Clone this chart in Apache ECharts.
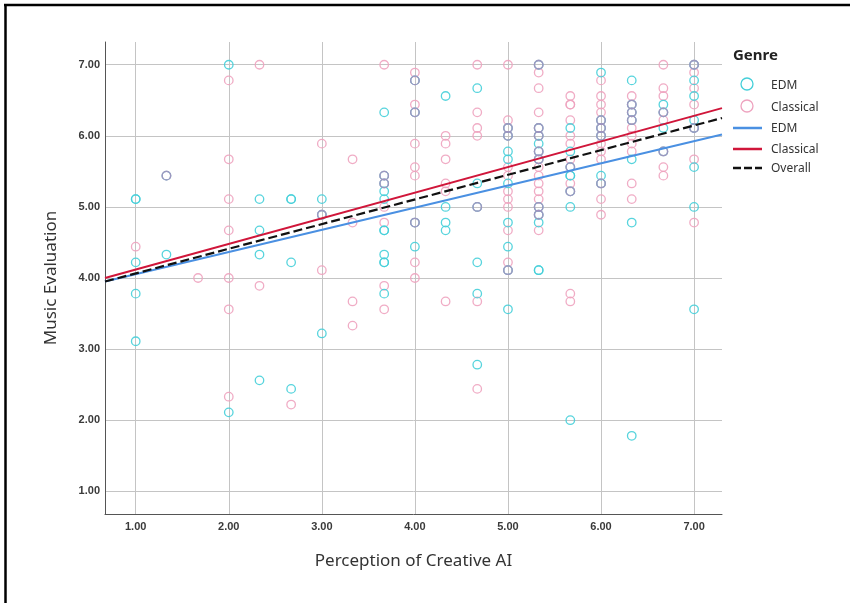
<!DOCTYPE html>
<html><head><meta charset="utf-8">
<script src="https://cdn.jsdelivr.net/npm/echarts@6/dist/echarts.min.js"></script>
<style>html,body{margin:0;padding:0;background:#fff}#c{width:850px;height:603px}</style>
</head><body><div id="c"></div>
<script>
var xTicks = [1, 2, 3, 4, 5, 6, 7];
var yTicks = [1, 2, 3, 4, 5, 6, 7];
var edmPoints = [
[1,5.11],[1,5.11],[1,4.22],[1,3.78],[1,3.11],
[1.33,5.44],[1.33,4.33],
[2,7.00],[2,2.11],
[2.33,5.11],[2.33,4.67],[2.33,4.33],[2.33,2.56],
[2.67,5.11],[2.67,5.11],[2.67,4.22],[2.67,2.44],
[3,5.11],[3,4.89],[3,3.22],
[3.67,6.33],[3.67,5.44],[3.67,5.33],[3.67,5.22],[3.67,5.11],[3.67,4.67],[3.67,4.67],[3.67,4.33],[3.67,4.22],[3.67,4.22],[3.67,3.78],
[4,6.78],[4,6.33],[4,4.78],[4,4.44],
[4.33,6.56],[4.33,5.00],[4.33,4.78],[4.33,4.67],
[4.67,6.67],[4.67,5.33],[4.67,5.00],[4.67,4.22],[4.67,3.78],[4.67,2.78],
[5,6.11],[5,6.00],[5,5.78],[5,5.67],[5,5.33],[5,4.78],[5,4.44],[5,4.11],[5,3.56],
[5.33,7.00],[5.33,6.11],[5.33,6.00],[5.33,5.89],[5.33,5.78],[5.33,5.67],[5.33,5.00],[5.33,4.89],[5.33,4.78],[5.33,4.11],[5.33,4.11],
[5.67,6.11],[5.67,5.78],[5.67,5.56],[5.67,5.44],[5.67,5.44],[5.67,5.22],[5.67,5.00],[5.67,2.00],
[6,6.89],[6,6.22],[6,6.11],[6,6.00],[6,5.44],[6,5.33],
[6.33,6.78],[6.33,6.44],[6.33,6.33],[6.33,6.22],[6.33,5.67],[6.33,4.78],[6.33,1.78],
[6.67,6.44],[6.67,6.33],[6.67,6.11],[6.67,5.78],
[7,7.00],[7,6.78],[7,6.56],[7,6.22],[7,6.11],[7,5.56],[7,5.00],[7,3.56]
];
var classicalPoints = [
[1,4.44],
[1.33,5.44],
[1.67,4.00],
[2,6.78],[2,5.67],[2,5.11],[2,4.67],[2,4.00],[2,3.56],[2,2.33],
[2.33,7.00],[2.33,3.89],
[2.67,2.22],
[3,5.89],[3,4.89],[3,4.11],
[3.33,5.67],[3.33,4.78],[3.33,3.67],[3.33,3.33],
[3.67,7.00],[3.67,5.44],[3.67,5.33],[3.67,5.00],[3.67,4.78],[3.67,3.89],[3.67,3.56],
[4,6.89],[4,6.78],[4,6.44],[4,6.33],[4,5.89],[4,5.56],[4,5.44],[4,4.78],[4,4.22],[4,4.00],
[4.33,6.00],[4.33,5.89],[4.33,5.67],[4.33,5.33],[4.33,5.22],[4.33,3.67],
[4.67,7.00],[4.67,6.33],[4.67,6.11],[4.67,6.00],[4.67,5.00],[4.67,3.67],[4.67,2.44],
[5,7.00],[5,6.22],[5,6.11],[5,6.00],[5,5.56],[5,5.44],[5,5.22],[5,5.11],[5,5.00],[5,4.67],[5,4.22],[5,4.11],
[5.33,7.00],[5.33,6.89],[5.33,6.67],[5.33,6.33],[5.33,6.11],[5.33,6.00],[5.33,5.78],[5.33,5.67],[5.33,5.56],[5.33,5.44],[5.33,5.33],[5.33,5.22],[5.33,5.11],[5.33,5.00],[5.33,4.89],[5.33,4.67],
[5.67,6.56],[5.67,6.44],[5.67,6.44],[5.67,6.22],[5.67,6.00],[5.67,5.89],[5.67,5.67],[5.67,5.56],[5.67,5.33],[5.67,5.22],[5.67,3.78],[5.67,3.67],
[6,6.78],[6,6.56],[6,6.44],[6,6.33],[6,6.22],[6,6.11],[6,6.00],[6,5.89],[6,5.78],[6,5.67],[6,5.33],[6,5.11],[6,4.89],
[6.33,6.56],[6.33,6.44],[6.33,6.33],[6.33,6.22],[6.33,6.11],[6.33,6.00],[6.33,5.89],[6.33,5.78],[6.33,5.33],[6.33,5.11],
[6.67,7.00],[6.67,6.67],[6.67,6.56],[6.67,6.33],[6.67,6.22],[6.67,5.78],[6.67,5.56],[6.67,5.44],
[7,7.00],[7,6.89],[7,6.67],[7,6.44],[7,6.11],[7,5.67],[7,4.78]
];
var fitX = [0.67, 7.30];
var edmFit = [3.95, 6.02];
var classicalFit = [4.00, 6.39];
var overallFit = [3.95, 6.25];

var COL_EDM = '#45cfd9', COL_CLA = '#eea3bf', COL_BOTH = '#a690bd';
var keys = {};
classicalPoints.forEach(function(p){ keys[p[0]+'|'+p[1]] = true; });
var bothPoints = edmPoints.filter(function(p){ return keys[p[0]+'|'+p[1]]; });

function pairs(xs, ys){ return xs.map(function(x,i){ return [x, ys[i]]; }); }
function ring(col){ return {color:'transparent', borderColor: col, borderWidth: 1.3, opacity: 0.9}; }

var chart = echarts.init(document.getElementById('c'), null, {renderer:'canvas'});
var tickFont = {fontFamily:'Liberation Sans, Arial, sans-serif', fontSize: 11, fontWeight: 'bold', color: '#3a3a3a'};
var legFont = '12px "Noto Sans", sans-serif';
chart.setOption({
  animation: false,
  grid: {left: 105, right: 128, top: 42, bottom: 89},
  xAxis: {
    type: 'value', min: 0.67, max: 7.30,
    name: 'Perception of Creative AI', nameLocation: 'middle', nameGap: 39,
    nameTextStyle: {fontFamily: 'Noto Sans, sans-serif', fontSize: 17, color: '#333'},
    axisLine: {show: true, lineStyle: {color: '#555', width: 1}},
    axisTick: {show: false, customValues: xTicks},
    axisLabel: Object.assign({customValues: xTicks, margin: 7, formatter: function(v){ return v.toFixed(2); }}, tickFont),
    splitLine: {show: true, lineStyle: {color: '#c4c4c4', width: 1}}
  },
  yAxis: {
    type: 'value', min: 0.68, max: 7.32,
    name: 'Music Evaluation', nameLocation: 'middle', nameGap: 45,
    nameTextStyle: {fontFamily: 'Noto Sans, sans-serif', fontSize: 17, color: '#333'},
    axisLine: {show: true, lineStyle: {color: '#555', width: 1}},
    axisTick: {show: false, customValues: yTicks},
    axisLabel: Object.assign({customValues: yTicks, margin: 5, formatter: function(v){ return v.toFixed(2); }}, tickFont),
    splitLine: {show: true, lineStyle: {color: '#c4c4c4', width: 1}}
  },
  series: [
    {type: 'scatter', name: 'Classical', data: classicalPoints, symbol: 'circle', symbolSize: 8.5, itemStyle: ring(COL_CLA), z: 2},
    {type: 'scatter', name: 'EDM', data: edmPoints, symbol: 'circle', symbolSize: 8.5, itemStyle: ring(COL_EDM), z: 3},
    {type: 'scatter', name: 'Both', data: bothPoints, symbol: 'circle', symbolSize: 8.5, itemStyle: ring(COL_BOTH), z: 4},
    {type: 'line', name: 'EDM fit', data: pairs(fitX, edmFit), showSymbol: false, lineStyle: {color: '#4a90e2', width: 2}, z: 5},
    {type: 'line', name: 'Classical fit', data: pairs(fitX, classicalFit), showSymbol: false, lineStyle: {color: '#d0163a', width: 2}, z: 6},
    {type: 'line', name: 'Overall fit', data: pairs(fitX, overallFit), showSymbol: false, lineStyle: {color: '#111', width: 2.2, type: [9, 4]}, z: 7}
  ],
  graphic: [
    {type: 'line', shape: {x1: 5.5, y1: 4, x2: 5.5, y2: 603}, style: {stroke: '#000', lineWidth: 2.5}},
    {type: 'line', shape: {x1: 4, y1: 5, x2: 850, y2: 5}, style: {stroke: '#000', lineWidth: 2.5}},
    {type: 'text', left: 733, top: 48, style: {text: 'Genre', font: 'bold 15px "Noto Sans", sans-serif', fill: '#222'}},
    {type: 'circle', shape: {cx: 747, cy: 84, r: 6}, style: {fill: 'none', stroke: COL_EDM, lineWidth: 1.3}},
    {type: 'circle', shape: {cx: 747, cy: 106, r: 6}, style: {fill: 'none', stroke: COL_CLA, lineWidth: 1.3}},
    {type: 'line', shape: {x1: 733, y1: 128, x2: 762, y2: 128}, style: {stroke: '#4a90e2', lineWidth: 2.5}},
    {type: 'line', shape: {x1: 733, y1: 149, x2: 762, y2: 149}, style: {stroke: '#d0163a', lineWidth: 2.5}},
    {type: 'line', shape: {x1: 733, y1: 168, x2: 762, y2: 168}, style: {stroke: '#111', lineWidth: 2.5, lineDash: [8, 3]}},
    {type: 'text', left: 771, top: 80, style: {text: 'EDM', font: legFont, fill: '#333'}},
    {type: 'text', left: 771, top: 102, style: {text: 'Classical', font: legFont, fill: '#333'}},
    {type: 'text', left: 771, top: 123, style: {text: 'EDM', font: legFont, fill: '#333'}},
    {type: 'text', left: 771, top: 144, style: {text: 'Classical', font: legFont, fill: '#333'}},
    {type: 'text', left: 771, top: 163, style: {text: 'Overall', font: legFont, fill: '#333'}}
  ]
});
</script></body></html>
